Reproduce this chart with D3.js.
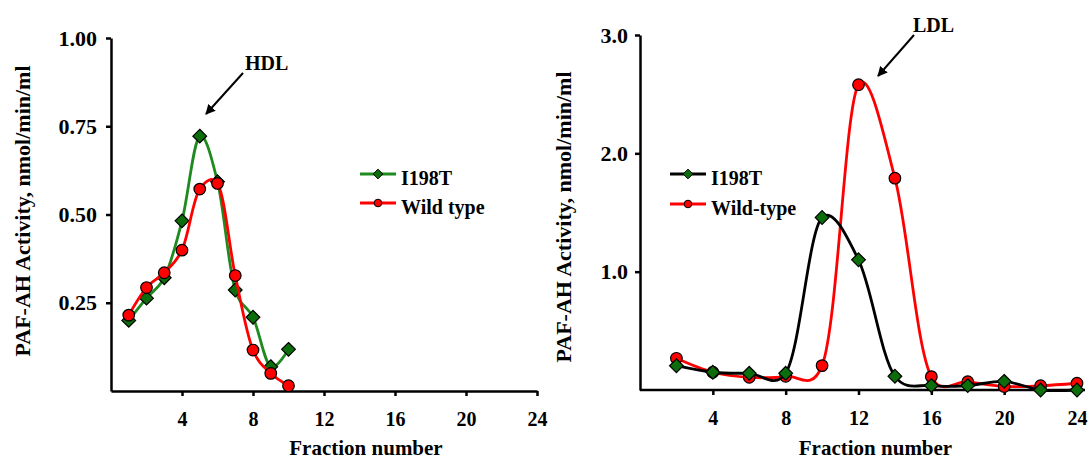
<!DOCTYPE html>
<html>
<head>
<meta charset="utf-8">
<script src="https://cdn.jsdelivr.net/npm/d3@7"></script>
<style>
  body { margin: 0; background: #fff; }
  text { font-family: "Liberation Serif", "Times New Roman", serif; font-weight: bold; }
</style>
</head>
<body>
<div id="chart"></div>
<script>
// HDL panel data (fractions 1-10)
var hdlFractions = [1, 2, 3, 4, 5, 6, 7, 8, 9, 10];
var hdlI198T = [0.20, 0.263, 0.321, 0.482, 0.722, 0.593, 0.286, 0.209, 0.069, 0.118];
var hdlWild = [0.215, 0.293, 0.335, 0.399, 0.572, 0.588, 0.327, 0.116, 0.050, 0.015];

// LDL panel data (even fractions 2-24)
var ldlFractions = [2, 4, 6, 8, 10, 12, 14, 16, 18, 20, 22, 24];
var ldlI198T = [0.205, 0.15, 0.141, 0.141, 1.458, 1.10, 0.116, 0.037, 0.037, 0.073, 0.0, 0.0];
var ldlWild = [0.268, 0.15, 0.107, 0.116, 0.206, 2.58, 1.79, 0.113, 0.07, 0.03, 0.036, 0.057];

var xTicks = [4, 8, 12, 16, 20, 24];
var hdlYTicks = [0.25, 0.50, 0.75, 1.00];
var ldlYTicks = [1.0, 2.0, 3.0];

var svg = d3.select("#chart").append("svg")
  .attr("width", 1091)
  .attr("height", 460);

// arrow head
svg.append("defs").append("marker")
  .attr("id", "arrow")
  .attr("viewBox", "0 0 10 10")
  .attr("refX", 9).attr("refY", 5)
  .attr("markerWidth", 5).attr("markerHeight", 5)
  .attr("orient", "auto")
  .append("path")
  .attr("d", "M0,0 L10,5 L0,10 z")
  .attr("fill", "#000");

var diamond = d3.symbol().type(d3.symbolDiamond2);
var green = "#1f8a1f", greenFill = "#0b6e0b";

function panel(cfg) {
  var x = d3.scaleLinear().domain([0, 24]).range([cfg.x0, cfg.x1]);
  var y = d3.scaleLinear().domain(cfg.yDomain).range([cfg.yBottom, cfg.yTop]);

  var xAxis = svg.append("g")
    .attr("transform", "translate(0," + cfg.yBottom + ")")
    .call(d3.axisBottom(x).tickValues(xTicks).tickSize(5).tickSizeOuter(0).tickPadding(16));
  var yAxis = svg.append("g")
    .attr("transform", "translate(" + cfg.x0 + ",0)")
    .call(d3.axisLeft(y).tickValues(cfg.yTicks).tickSize(5).tickSizeOuter(0)
      .tickPadding(cfg.yPad).tickFormat(d3.format(cfg.fmt)));

  [xAxis, yAxis].forEach(function(a) {
    a.select(".domain").attr("stroke", "#000").attr("stroke-width", 2.5);
    a.selectAll(".tick line").attr("stroke", "#000").attr("stroke-width", 2.5);
    a.selectAll(".tick text").attr("fill", "#000")
      .style("font-family", "Liberation Serif").style("font-weight", "bold");
  });
  xAxis.selectAll(".tick text").style("font-size", "20px");
  yAxis.selectAll(".tick text").style("font-size", "22px");
  if (cfg.xLineEnd) {
    xAxis.select(".domain").attr("d", "M" + cfg.x0 + ",0H" + cfg.xLineEnd);
  }

  svg.append("text")
    .attr("x", (cfg.x0 + cfg.x1) / 2 + cfg.xTitleShift)
    .attr("y", 455)
    .attr("text-anchor", "middle")
    .style("font-size", "21px")
    .text("Fraction number");

  svg.append("text")
    .attr("transform", "translate(" + cfg.yTitleX + "," + cfg.yTitleY + ") rotate(-90)")
    .attr("text-anchor", "middle")
    .style("font-size", "22px")
    .text("PAF-AH Activity, nmol/min/ml");

  var line = d3.line()
    .x(function(d) { return x(d[0]); })
    .y(function(d) { return y(d[1]); })
    .curve(d3.curveCatmullRom.alpha(0.2));

  cfg.series.forEach(function(s) {
    var pts = cfg.fractions.map(function(f, i) { return [f, s.values[i]]; });
    svg.append("path")
      .datum(pts)
      .attr("fill", "none")
      .attr("stroke", s.line)
      .attr("stroke-width", 2.8)
      .attr("d", line);
    if (s.shape === "diamond") {
      svg.selectAll(null).data(pts).enter().append("path")
        .attr("transform", function(d) { return "translate(" + x(d[0]) + "," + y(d[1]) + ")"; })
        .attr("d", diamond.size(120))
        .attr("fill", greenFill)
        .attr("stroke", "#000")
        .attr("stroke-width", 1.2);
    } else {
      svg.selectAll(null).data(pts).enter().append("circle")
        .attr("cx", function(d) { return x(d[0]); })
        .attr("cy", function(d) { return y(d[1]); })
        .attr("r", 5.8)
        .attr("fill", "#ff0000")
        .attr("stroke", "#000")
        .attr("stroke-width", 1.2);
    }
  });

  // legend
  cfg.legend.forEach(function(l, i) {
    var ly = cfg.legY[i];
    svg.append("line")
      .attr("x1", cfg.legX).attr("x2", cfg.legX + 36)
      .attr("y1", ly).attr("y2", ly)
      .attr("stroke", l.line).attr("stroke-width", 2.8);
    if (l.shape === "diamond") {
      svg.append("path")
        .attr("transform", "translate(" + (cfg.legX + 18) + "," + ly + ")")
        .attr("d", diamond.size(60))
        .attr("fill", greenFill).attr("stroke", "#000").attr("stroke-width", 1);
    } else {
      svg.append("circle")
        .attr("cx", cfg.legX + 18).attr("cy", ly).attr("r", 3.8)
        .attr("fill", "#ff0000").attr("stroke", "#000").attr("stroke-width", 1);
    }
    svg.append("text")
      .attr("x", cfg.legX + 41).attr("y", ly + 11)
      .style("font-size", "20px")
      .text(l.label);
  });

  // annotation
  svg.append("text")
    .attr("x", cfg.ann.tx).attr("y", cfg.ann.ty)
    .style("font-size", "20px")
    .text(cfg.ann.label);
  svg.append("line")
    .attr("x1", cfg.ann.x1).attr("y1", cfg.ann.y1)
    .attr("x2", cfg.ann.x2).attr("y2", cfg.ann.y2)
    .attr("stroke", "#000").attr("stroke-width", 2)
    .attr("marker-end", "url(#arrow)");
}

// HDL panel (left)
panel({
  x0: 111, x1: 537, yBottom: 391, yTop: 38, yDomain: [0, 1],
  yTicks: hdlYTicks, fmt: ".2f", yPad: 9,
  xTitleShift: 42, yTitleX: 30, yTitleY: 211,
  fractions: hdlFractions,
  series: [
    { values: hdlI198T, line: green, shape: "diamond" },
    { values: hdlWild, line: "#ff0000", shape: "circle" }
  ],
  legX: 360, legY: [174, 203],
  legend: [
    { label: "I198T", line: green, shape: "diamond" },
    { label: "Wild type", line: "#ff0000", shape: "circle" }
  ],
  ann: { label: "HDL", tx: 245, ty: 70, x1: 243, y1: 73, x2: 206, y2: 114 }
});

// LDL panel (right)
panel({
  x0: 640, x1: 1077, yBottom: 390, yTop: 35, yDomain: [0, 3],
  yTicks: ldlYTicks, fmt: ".1f", yPad: 7, xLineEnd: 1085,
  xTitleShift: 17, yTitleX: 571, yTitleY: 217,
  fractions: ldlFractions,
  series: [
    { values: ldlWild, line: "#ff0000", shape: "circle" },
    { values: ldlI198T, line: "#000", shape: "diamond" }
  ],
  legX: 670, legY: [174, 204],
  legend: [
    { label: "I198T", line: "#000", shape: "diamond" },
    { label: "Wild-type", line: "#ff0000", shape: "circle" }
  ],
  ann: { label: "LDL", tx: 913, ty: 32, x1: 914, y1: 35, x2: 878, y2: 76 }
});
</script>
</body>
</html>
